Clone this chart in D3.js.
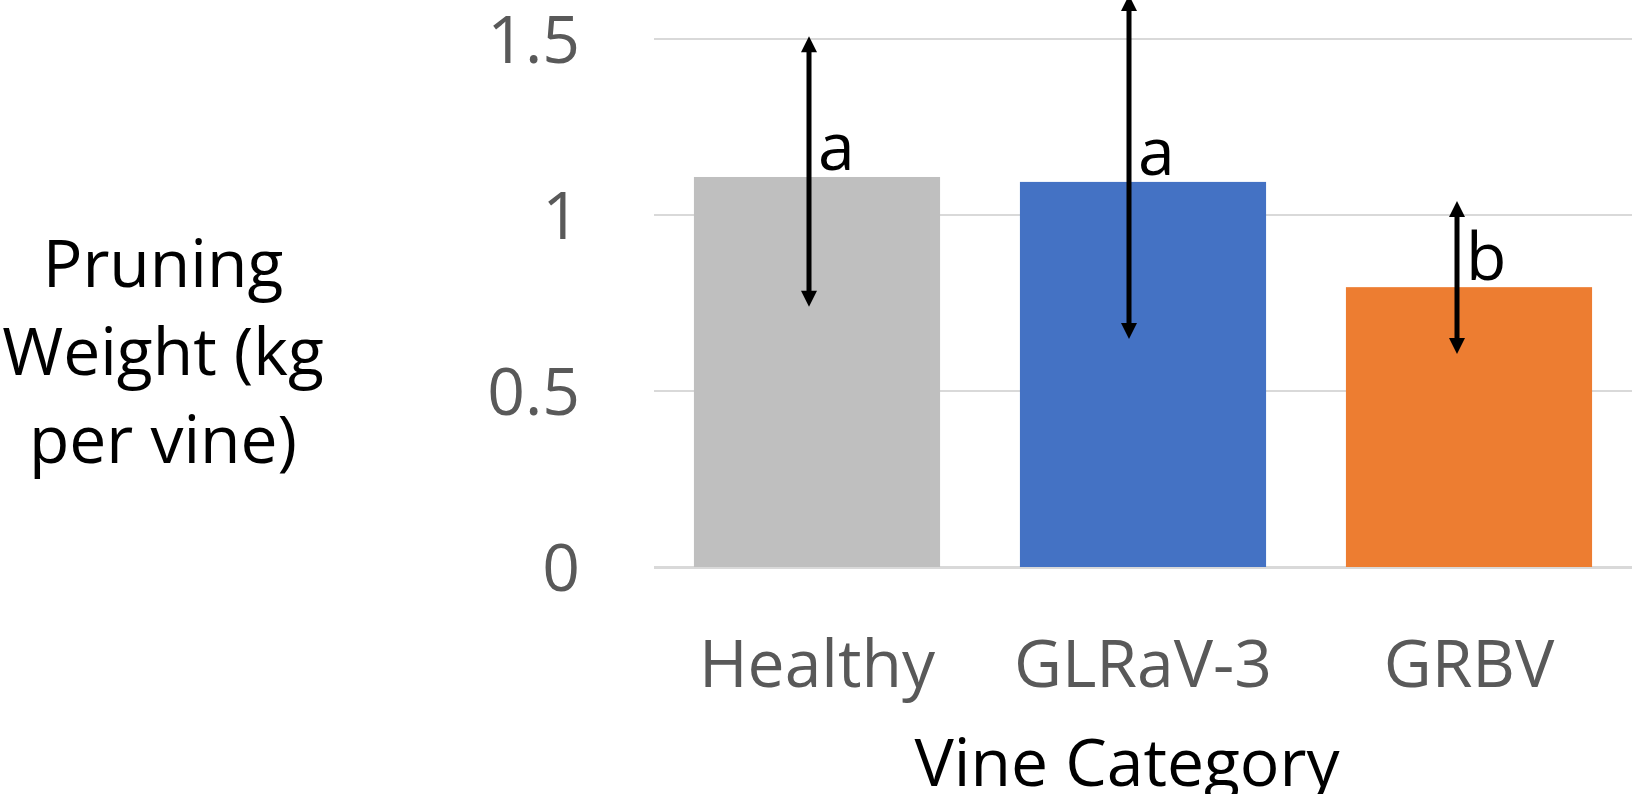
<!DOCTYPE html>
<html>
<head>
<meta charset="utf-8">
<script src="https://cdn.jsdelivr.net/npm/d3@7"></script>
<style>
  html, body { margin: 0; padding: 0; background: #ffffff; }
  svg { display: block; }
  text { font-family: "Open Sans", "Noto Sans", sans-serif; }
</style>
</head>
<body>
<svg id="chart" width="1639" height="794"></svg>
<script>
// Pruning weight by vine category, with error ranges and significance letters
const categories = ["Healthy", "GLRaV-3", "GRBV"];
const meanWeight = [1.108, 1.094, 0.795];
const rangeHigh = [1.508, 1.625, 1.040];
const rangeLow = [0.739, 0.648, 0.605];
const groupLetters = ["a", "a", "b"];
const barColors = ["#bfbfbf", "#4472c4", "#ed7d31"];
const yTicks = [0, 0.5, 1, 1.5];
const yTitleLines = ["Pruning", "Weight (kg", "per vine)"];
const xTitle = "Vine Category";

const svg = d3.select("#chart");
const plot = { left: 654, right: 1632, top: 39, bottom: 567 };
const fontSize = 66;
// arrows sit slightly left of each bar's centre
const arrowNudge = [-8, -14, -12];

const x = d3.scaleBand()
  .domain(categories)
  .range([plot.left, plot.right])
  .paddingInner(0.245)
  .paddingOuter(0.1225);

const y = d3.scaleLinear()
  .domain([0, 1.5])
  .range([plot.bottom, plot.top]);

// horizontal gridlines
svg.append("g")
  .selectAll("line")
  .data(yTicks)
  .join("line")
  .attr("x1", plot.left)
  .attr("x2", plot.right)
  .attr("y1", d => y(d))
  .attr("y2", d => y(d))
  .attr("stroke", "#d9d9d9")
  .attr("stroke-width", 2);

// y axis tick labels
const yAxis = d3.axisLeft(y).tickValues(yTicks).tickFormat(d3.format("~g")).tickSize(0).tickPadding(0);
const yAxisG = svg.append("g")
  .attr("transform", `translate(${plot.left - 74},0)`)
  .call(yAxis);
yAxisG.select(".domain").remove();
yAxisG.selectAll("text")
  .attr("font-size", fontSize)
  .attr("font-family", "'Open Sans', sans-serif")
  .attr("fill", "#595959")
  .attr("dy", "0.36em");

// bars
svg.append("g")
  .selectAll("rect")
  .data(categories)
  .join("rect")
  .attr("x", d => x(d))
  .attr("width", x.bandwidth())
  .attr("y", (d, i) => y(meanWeight[i]))
  .attr("height", (d, i) => y(0) - y(meanWeight[i]))
  .attr("fill", (d, i) => barColors[i]);

// baseline axis line
svg.append("line")
  .attr("x1", plot.left)
  .attr("x2", plot.right)
  .attr("y1", y(0) + 1)
  .attr("y2", y(0) + 1)
  .attr("stroke", "#d9d9d9")
  .attr("stroke-width", 2);

// x axis tick labels
const xAxis = d3.axisBottom(x).tickSize(0).tickPadding(0);
const xAxisG = svg.append("g")
  .attr("transform", `translate(0,687)`)
  .call(xAxis);
xAxisG.select(".domain").remove();
xAxisG.selectAll("text")
  .attr("font-size", fontSize)
  .attr("font-family", "'Open Sans', sans-serif")
  .attr("fill", "#595959")
  .attr("dy", 0);

// double-headed error arrows
const headW = 8, headH = 16, stemW = 5;
const arrows = svg.append("g");
categories.forEach((c, i) => {
  const ax = x(c) + x.bandwidth() / 2 + arrowNudge[i];
  const yTop = y(rangeHigh[i]);
  const yBot = y(rangeLow[i]);
  arrows.append("line")
    .attr("x1", ax).attr("x2", ax)
    .attr("y1", yTop + headH - 1).attr("y2", yBot - headH + 1)
    .attr("stroke", "#000").attr("stroke-width", stemW);
  arrows.append("path")
    .attr("d", `M${ax},${yTop} L${ax - headW},${yTop + headH} L${ax + headW},${yTop + headH} Z`)
    .attr("fill", "#000");
  arrows.append("path")
    .attr("d", `M${ax},${yBot} L${ax - headW},${yBot - headH} L${ax + headW},${yBot - headH} Z`)
    .attr("fill", "#000");
  // significance letter
  arrows.append("text")
    .attr("x", ax + 9)
    .attr("y", y(meanWeight[i]) - 7)
    .attr("font-size", fontSize)
    .attr("fill", "#000")
    .text(groupLetters[i]);
});

// y axis title
svg.append("text")
  .attr("text-anchor", "middle")
  .attr("font-size", fontSize)
  .attr("fill", "#000")
  .selectAll("tspan")
  .data(yTitleLines)
  .join("tspan")
  .attr("x", 163)
  .attr("y", (d, i) => 287 + i * 88)
  .text(d => d);

// x axis title
svg.append("text")
  .attr("x", (plot.left + plot.right) / 2 - 16)
  .attr("y", 786)
  .attr("text-anchor", "middle")
  .attr("font-size", fontSize)
  .attr("fill", "#000")
  .text(xTitle);
</script>
</body>
</html>
